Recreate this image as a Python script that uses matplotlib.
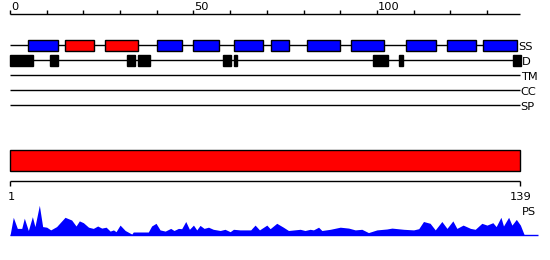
import matplotlib
matplotlib.use("Agg")
import matplotlib.pyplot as plt
from matplotlib.patches import Rectangle

# sequence length
seq_len = 139

# secondary structure: helices (blue) and strands (red), residue start/end
helix = [(5, 13), (40, 47), (50, 57), (61, 69), (71, 76), (81, 90),
         (93, 102), (108, 116), (119, 127), (129, 138.2)]
strand = [(15, 23), (26, 35)]

# disordered regions
disorder = [(0, 6.2), (11, 13), (32, 34), (35, 38.1), (58, 60.2), (61, 62),
            (99, 103), (106, 107.2), (137, 139.2)]

row_names = ['SS', 'D', 'TM', 'CC', 'SP']

# PS profile (position, score)
ps_pos = [0, 0.9, 2.0, 3.2, 3.9, 5.0, 6.1, 6.8, 8.0, 8.9, 10.0, 11.1, 12.7,
          15.0, 16.8, 18.0, 18.9, 20.0, 21.4, 22.7, 23.9, 25.0, 26.2, 27.3,
          28.2, 28.9, 30.0, 31.4, 33.2, 33.6, 37.7, 38.6, 39.8, 40.9, 42.3,
          43.8, 44.7, 45.9, 46.8, 47.9, 48.9, 50.0, 50.9, 51.8, 52.9, 54.1,
          55.4, 57.3, 58.6, 60.0, 60.9, 62.7, 65.6, 66.8, 68.0, 70.0, 70.9,
          72.7, 74.5, 75.9, 79.1, 80.4, 81.8, 82.7, 84.1, 85.0, 87.3, 90.0,
          92.3, 94.1, 95.9, 97.7, 100.0, 102.7, 104.1, 107.3, 110.0, 111.4,
          112.7, 114.5, 115.9, 117.7, 119.1, 120.7, 121.8, 123.5, 125.5,
          126.8, 128.6, 130.0, 131.6, 132.5, 133.8, 134.5, 135.9, 136.8,
          138.0, 139.1, 140.2]
ps_val = [0, 0.60, 0.23, 0.23, 0.57, 0.16, 0.62, 0.29, 1.00, 0.29, 0.27, 0.18,
          0.29, 0.60, 0.51, 0.31, 0.48, 0.42, 0.27, 0.23, 0.31, 0.24, 0.27,
          0.14, 0.18, 0.12, 0.34, 0.16, 0.04, 0.11, 0.11, 0.31, 0.40, 0.18,
          0.14, 0.23, 0.16, 0.23, 0.22, 0.46, 0.20, 0.34, 0.18, 0.33, 0.23,
          0.27, 0.20, 0.16, 0.20, 0.12, 0.20, 0.18, 0.18, 0.34, 0.18, 0.34,
          0.22, 0.40, 0.27, 0.16, 0.20, 0.16, 0.20, 0.18, 0.27, 0.16, 0.20,
          0.27, 0.24, 0.18, 0.20, 0.09, 0.18, 0.21, 0.24, 0.20, 0.18, 0.22,
          0.46, 0.40, 0.18, 0.46, 0.23, 0.48, 0.23, 0.34, 0.23, 0.20, 0.40,
          0.34, 0.42, 0.29, 0.60, 0.31, 0.60, 0.34, 0.53, 0.34, 0]

fig = plt.figure(figsize=(5.5, 2.6), dpi=100)
ax = fig.add_axes([0, 0, 1, 1])
ppr = 510 / seq_len
ax.set_xlim(-10 / ppr, 540 / ppr)
ax.set_ylim(260, 0)
ax.axis('off')
fs = 8.2

# top ruler
ax.hlines(14.3, 0, seq_len, color='black', lw=1)
for t in range(0, seq_len, 10):
    ax.vlines(t, 10, 14.3, color='black', lw=1)
for t in [0, 50, 100]:
    ax.text(t + 0.3, 10.3, str(t), ha='left', va='baseline', fontsize=fs)

# feature rows
row_y = [45.3, 60.3, 75.3, 90.3, 105.3]
row_end = [helix[-1][1], seq_len + 0.4, seq_len, seq_len, seq_len]
for name, y, xe in zip(row_names, row_y, row_end):
    ax.hlines(y, 0, xe, color='black', lw=1, zorder=1)
    ax.text(xe + 0.2, y + 4.3, name, ha='left', va='baseline', fontsize=fs)

bh = 10.7
for s, e in helix:
    ax.add_patch(Rectangle((s, row_y[0] - bh / 2), e - s, bh, fc='#0000ff', ec='black', lw=1, zorder=2))
for s, e in strand:
    ax.add_patch(Rectangle((s, row_y[0] - bh / 2), e - s, bh, fc='#ff0000', ec='black', lw=1, zorder=2))
for s, e in disorder:
    ax.add_patch(Rectangle((s, row_y[1] - bh / 2), e - s, bh, fc='black', ec='black', lw=1, zorder=2))

# domain bar
ax.add_patch(Rectangle((0, 150), seq_len, 20.7, fc='#ff0000', ec='black', lw=1))

# bottom ruler
ax.hlines(180.7, 0, seq_len, color='black', lw=1)
ax.vlines([0, seq_len], 180.7, 185.7, color='black', lw=1)
ax.text(0.3, 200, '1', ha='center', va='baseline', fontsize=fs)
ax.text(seq_len + 0.2, 200, str(seq_len), ha='center', va='baseline', fontsize=fs)
ax.text(seq_len + 0.6, 215, 'PS', ha='left', va='baseline', fontsize=fs)

# PS profile
base = 235.3
ax.fill_between(ps_pos, base, [base - 30 * v for v in ps_val], color='#0000ff', lw=0)
ax.hlines(base, 0, 143.9, color='#0000ff', lw=1)

fig.savefig('out.png', dpi=100)
